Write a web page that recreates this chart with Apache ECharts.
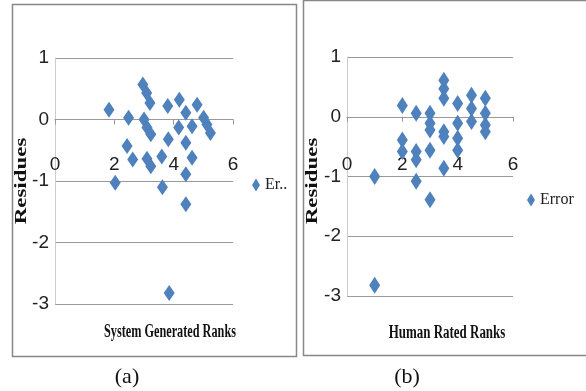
<!DOCTYPE html>
<html lang="en" style="height: 100%">
<head>
    <meta charset="utf-8">
</head>
<body style="height: 100%; margin: 0; overflow: hidden; background: #fff">
<div id="container" style="height: 391px; width: 586px"></div>

<script type="text/javascript" src="https://cdn.jsdelivr.net/npm/echarts@6/dist/echarts.min.js"></script>

<script type="text/javascript">
    // (a) residues against system generated ranks
    var sysRank = [1.82, 2.03, 2.48, 2.43, 2.62, 2.96, 3.09, 3.2, 3.0, 3.1, 3.23, 3.1, 3.23, 3.6, 3.62,
                   3.8, 3.82, 3.85, 4.19, 4.17, 4.41, 4.41, 4.41, 4.41, 4.62, 4.62, 4.79, 5.01, 5.12, 5.24];
    var sysResid = [0.16, -1.03, 0.03, -0.43, -0.65, 0.57, 0.43, 0.27, 0.0, -0.13, -0.24, -0.64, -0.76, -0.6, -1.1,
                    0.22, -0.32, -2.82, 0.32, -0.13, 0.11, -0.38, -0.89, -1.38, -0.11, -0.62, 0.24, 0.03, -0.08, -0.22];
    // (b) residues against human rated ranks
    var humRank = [1, 1, 2, 2, 2, 2.5, 2.5, 2.5, 2.5, 3, 3, 3, 3, 3, 3.5, 3.5, 3.5, 3.5, 3.5, 3.5,
                   4, 4, 4, 4, 4.5, 4.5, 4.5, 5, 5, 5, 5];
    var humResid = [-1.0, -2.82, 0.19, -0.39, -0.58, 0.06, -0.58, -0.72, -1.08, 0.06, -0.11, -0.22, -0.56, -1.39,
                    0.61, 0.47, 0.31, -0.25, -0.33, -0.86, 0.22, -0.11, -0.36, -0.56, 0.36, 0.14, -0.08,
                    0.31, 0.06, -0.14, -0.25];

    function pairs(xs, ys) {
      return xs.map(function (x, i) { return [x, ys[i]]; });
    }

    var blue = '#4F81BD';
    var numFont = '"Liberation Sans Narrow", "Liberation Sans", sans-serif';
    var serif = '"Liberation Serif", "DejaVu Serif", serif';

    // x axis drawn across y = 0 (offset up from the grid bottom)
    function xAx(idx, offset, margin) {
      return {
        gridIndex: idx, type: 'value', min: 0, max: 6, interval: 2,
        offset: offset,
        axisLine: { onZero: false, lineStyle: { color: '#999', width: 1.2 } },
        axisTick: { show: true, inside: false, length: 5, lineStyle: { color: '#999' } },
        axisLabel: { margin: margin, color: '#222', fontSize: 19, fontFamily: numFont },
        splitLine: { show: false }
      };
    }
    function yAx(idx) {
      return {
        gridIndex: idx, type: 'value', min: -3, max: 1, interval: 1,
        axisLine: { show: true, onZero: false, lineStyle: { color: '#ccc' } },
        axisTick: { show: false },
        axisLabel: { margin: 6, color: '#222', fontSize: 19, fontFamily: numFont },
        splitLine: { lineStyle: { color: '#999', width: 1.2 } }
      };
    }
    function txt(x, y, s, font, rot, sx) {
      return {
        type: 'text', x: x, y: y, rotation: rot || 0, scaleX: sx || 1,
        style: { text: s, font: font, fill: '#111', textAlign: 'center', textVerticalAlign: 'middle',
                 align: 'center', verticalAlign: 'middle' }
      };
    }

    var myChart = echarts.init(document.getElementById('container'), null, { renderer: 'canvas' });

    var option = {
      animation: false,
      grid: [
        { left: 55, top: 58, width: 178, height: 246 },
        { left: 347, top: 57, width: 166, height: 239 }
      ],
      xAxis: [xAx(0, -184.5, 36), xAx(1, -179.25, 39)],
      yAxis: [yAx(0), yAx(1)],
      legend: [
        { data: ['Er..'], left: 247, top: 172, icon: 'diamond', itemWidth: 8, itemHeight: 13, itemGap: 2,
          textStyle: { fontFamily: serif, fontSize: 16, color: '#222' } },
        { data: ['Error'], left: 522, top: 187, icon: 'diamond', itemWidth: 8, itemHeight: 13, itemGap: 2,
          textStyle: { fontFamily: serif, fontSize: 16, color: '#222' } }
      ],
      series: [
        { name: 'Er..', type: 'scatter', xAxisIndex: 0, yAxisIndex: 0, symbol: 'diamond',
          symbolSize: [11, 16], itemStyle: { color: blue, opacity: 1 }, data: pairs(sysRank, sysResid) },
        { name: 'Error', type: 'scatter', xAxisIndex: 1, yAxisIndex: 1, symbol: 'diamond',
          symbolSize: [11, 17], itemStyle: { color: blue, opacity: 1 }, data: pairs(humRank, humResid) }
      ],
      graphic: [
        { type: 'rect', shape: { x: 12.5, y: 4.5, width: 284, height: 352 }, style: { fill: null, stroke: '#888', lineWidth: 1.5 } },
        { type: 'rect', shape: { x: 303.5, y: 0.5, width: 290, height: 355 }, style: { fill: null, stroke: '#888', lineWidth: 1.5 } },
        txt(22, 181, 'Residues', 'bold 17px ' + serif, Math.PI / 2, 1.35),
        txt(313, 181, 'Residues', 'bold 17px ' + serif, Math.PI / 2, 1.35),
        txt(170, 332, 'System Generated Ranks', 'bold 18px ' + serif, 0, 0.68),
        txt(447, 333, 'Human Rated Ranks', 'bold 18px ' + serif, 0, 0.72),
        txt(127, 377, '(a)', '22px ' + serif),
        txt(407, 377, '(b)', '22px ' + serif)
      ]
    };

    myChart.setOption(option);
    window.addEventListener('resize', myChart.resize);
</script>
</body>
</html>
